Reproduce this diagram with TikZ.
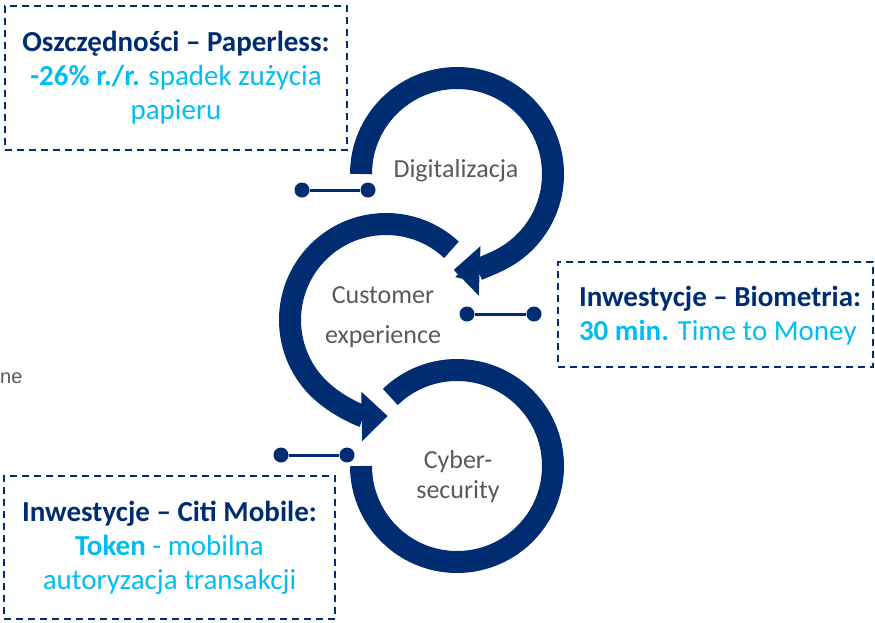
\documentclass[tikz,border=0pt]{standalone}
\usepackage{fontspec}
\setmainfont{Carlito}
\newfontfamily\arialfont{Liberation Sans}
\usetikzlibrary{arrows.meta}
\definecolor{citinavy}{HTML}{002D72}
\definecolor{citicyan}{HTML}{00BDF2}
\definecolor{labelgray}{HTML}{595959}

\begin{document}
\begin{tikzpicture}[x=1pt,y=1pt,ring/.style={line width=22pt,draw=citinavy},ringarrow/.style={ring,-{Triangle[length=26pt,width=48pt]}},every circle node/.style={fill=citinavy,minimum size=15pt,inner sep=0pt},box/.style={draw=citinavy,line width=2pt,dash pattern=on 7pt off 5pt,align=center,font=\fontsize{29}{34}\selectfont},lbl/.style={text=labelgray,font=\fontsize{26}{30}\selectfont,align=center,anchor=base}]
    \useasboundingbox (0,0) rectangle (875,-622);
    %rings
    \draw[ringarrow] (457,-174) ++(180:96pt) arc[start angle=180,end angle=-92,radius=96pt];
    \draw[ringarrow] (386,-320) ++(47:96pt) arc[start angle=47,end angle=271,radius=96pt];
    \draw[ring] (457,-466) ++(134:96pt) arc[start angle=134,end angle=-180,radius=96pt];
    \node[lbl] (dig) at (456,-177) {Digitalizacja};
    \node[lbl] (cust) at (383,-343) {Customer\\[10pt]experience};
    \node[lbl] (cyber) at (458,-498) {Cyber-\\security};
    %connectors
    \node[circle] (d1) at (302,-190) {};
    \node[circle] (d2) at (368,-190) {};
    \node[circle] (c1) at (467,-314) {};
    \node[circle] (c2) at (534,-314) {};
    \node[circle] (s1) at (281,-455) {};
    \node[circle] (s2) at (347,-455) {};
    \draw[citinavy,line width=3pt] (d1) -- (d2);
    \draw[citinavy,line width=3pt] (c1) -- (c2);
    \draw[citinavy,line width=3pt] (s1) -- (s2);
    %boxes
    \node[box,minimum width=342pt,minimum height=144pt] (paper) at (176,-78) {{\bfseries\color{citinavy}Oszczędności – Paperless:}\\ \color{citicyan}\textbf{-26\% r./r.} spadek zużycia\\ \color{citicyan}papieru};
    \node[box,minimum width=315pt,minimum height=105pt] (bio) at (715.5,-314.5) {};
    \node[box,draw=none,anchor=west,align=left,inner sep=0pt] (biotext) at (578,-316) {{\bfseries\color{citinavy}Inwestycje – Biometria:}\\ \color{citicyan}\textbf{30 min.} Time to Money};
    \node[box,minimum width=331pt,minimum height=143pt] (mobile) at (169.5,-547.5) {{\bfseries\color{citinavy}Inwestycje – Citi Mobile:}\\ \color{citicyan}\textbf{Token} - mobilna\\ \color{citicyan}autoryzacja transakcji};
    \node[anchor=base west,inner sep=0pt,text=labelgray,font=\arialfont\fontsize{20}{22}\selectfont] (ne) at (0,-383) {ne};
\end{tikzpicture}
\end{document}
